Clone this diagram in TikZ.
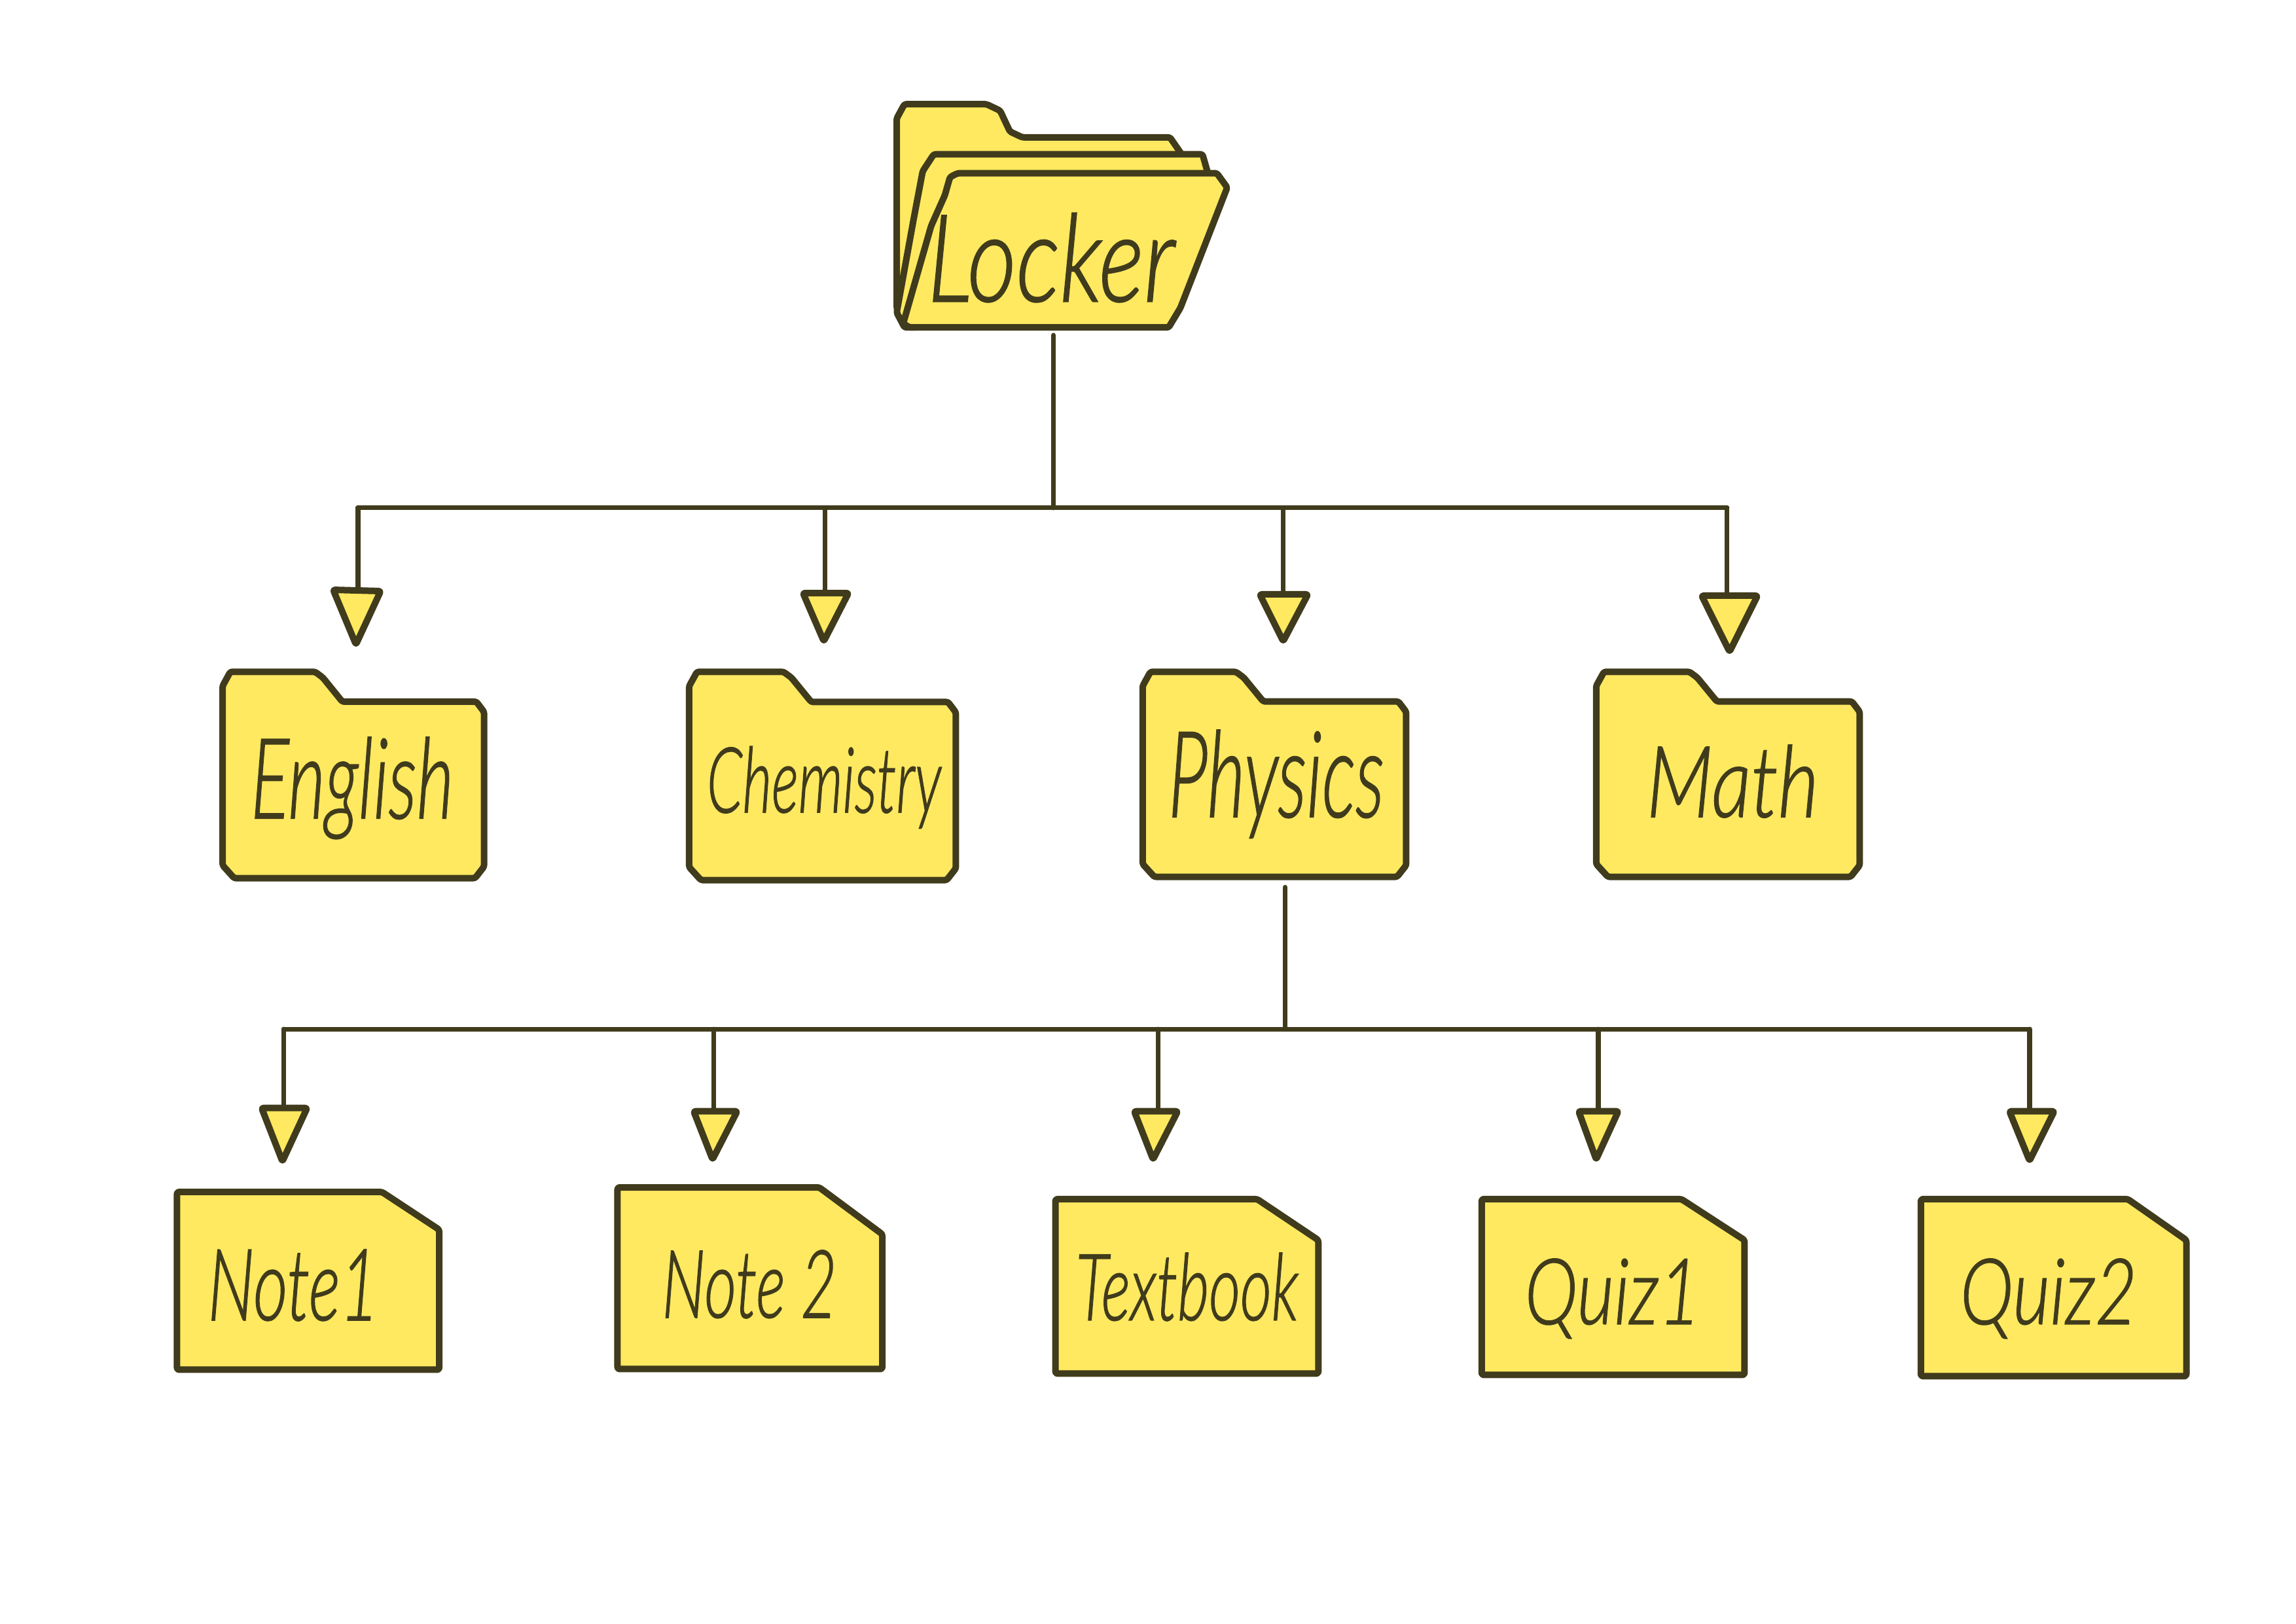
\documentclass[tikz,border=0pt]{standalone}
\usepackage{fontspec}
\newfontfamily\hand{Lato Light}[ItalicFont={Lato Light Italic},ItalicFeatures={FakeBold=1.2}]
\newlength\px \setlength\px{0.02cm}
\definecolor{ink}{HTML}{403B1C}
\definecolor{paper}{HTML}{FFE960}
\tikzset{
  outline/.style={draw=ink,fill=paper,line width=10\px,line join=round,line cap=round,rounded corners=3\px},
  link/.style={draw=ink,line width=7.5\px,line cap=round},
  word/.style={anchor=base west,inner sep=0pt,text=ink},
}
\newcommand{\hw}[3]{\resizebox{#1\px}{#2\px}{\hand\itshape\fontsize{100}{100}\selectfont #3}}
\newcommand{\folderbox}[4]{%
  \begin{scope}[shift={(#1,#2)},xscale=#3/404,yscale=#4/318]
    \draw[outline] (0,22)--(12,0)--(143,0)--(155,9)--(185,46)--(392,46)--(404,62)--(404,300)--(390,318)--(18,318)--(0,298)--cycle;
  \end{scope}}
\newcommand{\notebox}[6]{% x1 y1 x2 y2 chamferx chamfery
  \draw[outline] (#1,#2)--(#5,#2)--(#3,#6)--(#3,#4)--(#1,#4)--cycle;}
\newcommand{\headtri}[6]{\draw[outline] (#1,#2)--(#3,#4)--(#5,#6)--cycle;}
\begin{document}
\begin{tikzpicture}[x=0.9942\px,y=-0.9945\px]
\useasboundingbox (0,0) rectangle (3528.5,2493.7);
\fill[white] (0,0) rectangle (3528.5,2493.7);

% connectors, top level
\coordinate (stemA) at (1619,515);
\coordinate (busA) at (1619,780);
\coordinate (busAl) at (550,780);
\coordinate (busAr) at (2654,780);
\coordinate (busAc) at (1268,780);
\coordinate (busAp) at (1972,780);
\coordinate (hE) at (550,906);
\coordinate (hC) at (1268,909);
\coordinate (hP) at (1972,911);
\coordinate (hM) at (2654,913);
\draw[link] (stemA)--(busA);
\draw[link] (busAl)--(busAr);
\draw[link] (busAl)--(hE);
\draw[link] (busAc)--(hC);
\draw[link] (busAp)--(hP);
\draw[link] (busAr)--(hM);

% connectors, second level
\coordinate (stemB) at (1975,1363);
\coordinate (busB) at (1975,1581);
\coordinate (busBa) at (436,1581);
\coordinate (busBb) at (1097,1581);
\coordinate (busBc) at (1780,1581);
\coordinate (busBd) at (2456,1581);
\coordinate (busBe) at (3119,1581);
\coordinate (hNa) at (436,1700);
\coordinate (hNb) at (1097,1705);
\coordinate (hT) at (1780,1705);
\coordinate (hQa) at (2456,1705);
\coordinate (hQb) at (3119,1705);
\draw[link] (stemB)--(busB);
\draw[link] (busBa)--(busBe);
\draw[link] (busBa)--(hNa);
\draw[link] (busBb)--(hNb);
\draw[link] (busBc)--(hT);
\draw[link] (busBd)--(hQa);
\draw[link] (busBe)--(hQb);

% arrow heads
\headtri{512}{906}{585}{908}{547}{990}
\headtri{1234}{911}{1304}{911}{1266}{985}
\headtri{1936}{913}{2010}{913}{1972}{985}
\headtri{2615}{915}{2701}{915}{2658}{1001}
\headtri{402}{1702}{472}{1702}{434}{1784}
\headtri{1066}{1707}{1133}{1707}{1095}{1781}
\headtri{1743}{1707}{1810}{1707}{1772}{1781}
\headtri{2426}{1707}{2487}{1707}{2453}{1781}
\headtri{3088}{1707}{3157}{1707}{3119}{1783}

% root folder
\draw[outline] (1378,473)--(1378,182)--(1390,160)--(1516,160)--(1537,170)--(1552,202)--(1571,211)--(1798,211)--(1818,240)--(1818,300)--(1600,480)--(1400,503)--(1390,497)--cycle;
\draw[outline] (1378,480)--(1404,337)--(1418,263)--(1435,237)--(1848,237)--(1856,265)--(1856,300)--(1600,500)--(1390,503)--cycle;
\draw[outline] (1388,497)--(1431,347)--(1452,300)--(1460,272)--(1472,266)--(1870,266)--(1886,288)--(1814,473)--(1796,503)--(1398,503)--cycle;

% folders
\folderbox{342}{1032}{402}{317}
\folderbox{1059}{1032}{410}{320}
\folderbox{1756}{1032}{405}{315}
\folderbox{2453}{1032}{405}{315}

% notes
\notebox{272}{1831}{675}{2104}{587}{1889}
\notebox{949}{1824}{1356}{2103}{1259}{1896}
\notebox{1622}{1842}{2026}{2110}{1932}{1905}
\notebox{2277}{1842}{2681}{2112}{2584}{1905}
\notebox{2952}{1842}{3360}{2114}{3270}{1905}

% labels
\node[word] (locker) at (1425,463) {\hw{378}{135}{Locker}};
\node[word] (english) at (385,1257) {\hw{310}{124}{English}};
\node[word] (chemistry) at (1086,1248) {\hw{358}{101}{Chemistry}};
\node[word] (physics) at (1795,1255) {\hw{330}{133}{Physics}};
\node[word] (math) at (2530,1255) {\hw{263}{110}{Math}};
\node[word] (note1) at (319,2028) {\hw{261}{108}{Note1}};
\node[word] (note2) at (1017,2024) {\hw{267}{103}{Note 2}};
\node[word] (textbook) at (1653,2028) {\hw{340}{103}{Textbook}};
\node[word] (quiz1) at (2343,2034) {\hw{268}{100}{Quiz1}};
\node[word] (quiz2) at (3012,2034) {\hw{270}{100}{Quiz2}};
\end{tikzpicture}
\end{document}
